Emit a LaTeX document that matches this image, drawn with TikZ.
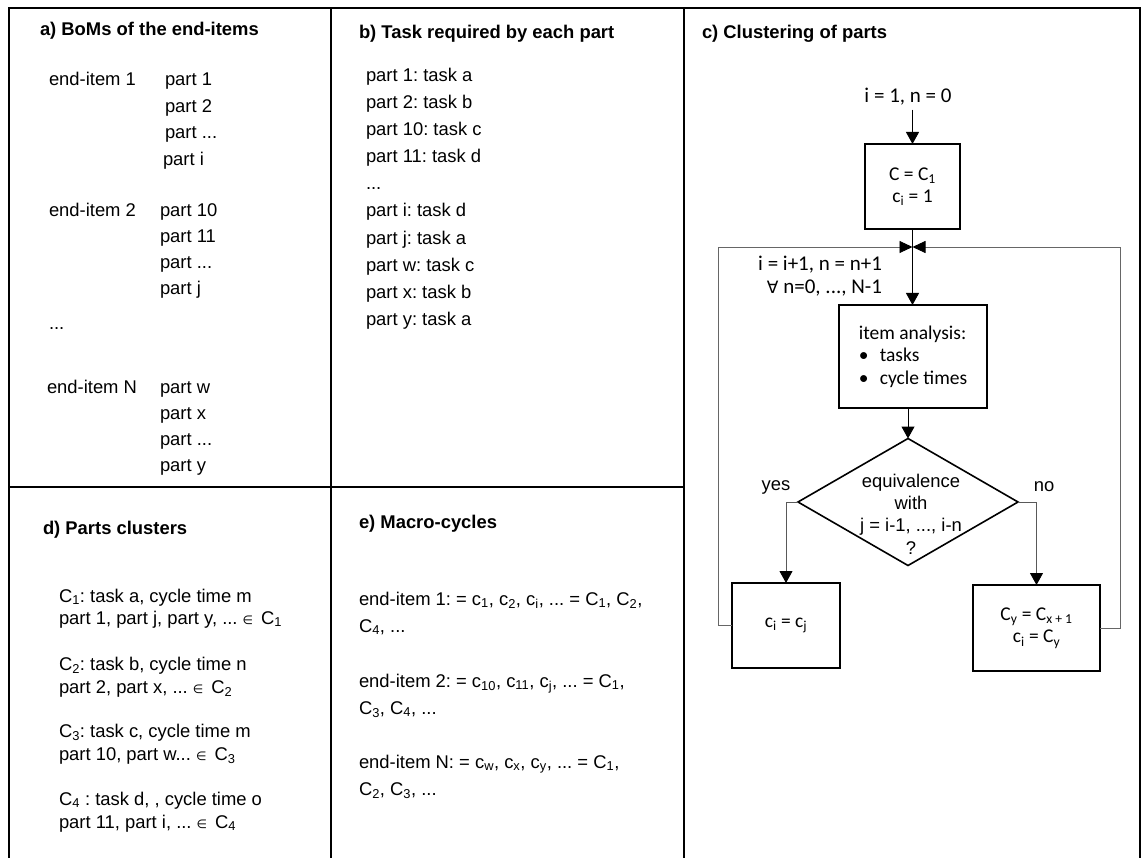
\documentclass[tikz,border=0pt]{standalone}
\usepackage{fontspec}
\setmainfont{Liberation Sans}
\newfontfamily\calfont{Carlito}
\newfontfamily\symfont{DejaVu Sans}
\usetikzlibrary{arrows.meta,shapes.geometric}
\newcommand{\elem}{{\symfont\fontsize{12}{12}\selectfont ∈}}
\frenchspacing
\begin{document}
\begin{tikzpicture}[x=1pt,y=-1pt,
  every node/.style={inner sep=0pt, outer sep=0pt},
  txt/.style={anchor=base west, font=\fontsize{18.4}{22}\selectfont},
  ttl/.style={anchor=base west, font=\bfseries\fontsize{18.4}{22}\selectfont},
  ctxt/.style={font=\calfont\fontsize{19.5}{22.5}\selectfont, align=center},
  ltxt/.style={font=\calfont\fontsize{21}{23}\selectfont, align=center},
  atxt/.style={font=\fontsize{18.4}{22.3}\selectfont, align=center},
  frame/.style={line width=1.8pt, black, line join=miter},
  box/.style={draw, line width=1.6pt, ctxt},
  dia/.style={draw, line width=1.6pt, diamond, minimum width=220, minimum height=127},
  arr/.style={line width=1pt, black, -{Triangle[length=12pt,width=13pt]}},
  conn/.style={line width=0.9pt, black!65, -{Triangle[length=12pt,width=13pt,color=black,fill=black]}},
  loopl/.style={line width=0.9pt, black!60, -{Triangle[length=13pt,width=12pt,color=black,fill=black]}}
]
\useasboundingbox (0,0) rectangle (1143,858);
\fill[white] (0,0) rectangle (1143,858);
% frame
\draw[frame] (9,858) -- (9,8) -- (1140,8) -- (1140,858);
\draw[frame] (331,8) -- (331,858);
\draw[frame] (684,8) -- (684,858);
\draw[frame] (9,487) -- (684,487);

% panel a
\node[ttl] (atitle) at (40,36) {a) BoMs of the end-items};
\node[txt] (ae1) at (49,86) {end-item 1};
\node[txt] (ap1) at (165,86) {part 1};
\node[txt] (ap2) at (165,113) {part 2};
\node[txt] (ap3) at (165,139) {part ...};
\node[txt] (api) at (163,166) {part i};
\node[txt] (ae2) at (49,217) {end-item 2};
\node[txt] (ap10) at (160,217) {part 10};
\node[txt] (ap11) at (160,243) {part 11};
\node[txt] (ap4) at (160,269) {part ...};
\node[txt] (apj) at (160,295) {part j};
\node[txt] (adots) at (49,330) {...};
\node[txt] (aeN) at (47,393) {end-item N};
\node[txt] (apw) at (160,393) {part w};
\node[txt] (apx) at (160,419) {part x};
\node[txt] (ap5) at (160,445) {part ...};
\node[txt] (apy) at (160,471) {part y};

% panel b
\node[ttl] (btitle) at (359,39) {b) Task required by each part};
\node[txt] (b1) at (366,82) {part 1: task a};
\node[txt] (b2) at (366,109) {part 2: task b};
\node[txt] (b3) at (366,136) {part 10: task c};
\node[txt] (b4) at (366,163) {part 11: task d};
\node[txt] (b5) at (366,190) {...};
\node[txt] (b6) at (366,217) {part i: task d};
\node[txt] (b7) at (366,245) {part j: task a};
\node[txt] (b8) at (366,272) {part w: task c};
\node[txt] (b9) at (366,299) {part x: task b};
\node[txt] (b10) at (366,326) {part y: task a};

% panel c
\node[ttl] (ctitle) at (702,39) {c) Clustering of parts};
\node[ltxt] (start) at (908,97) {i = 1, n = 0};
\node[box, minimum width=95, minimum height=85] (init) at (912.5,186.5) {C = C\textsubscript{1}\\c\textsubscript{i} = 1};
\node[box, minimum width=148, minimum height=103, align=left] (item) at (913,356.5) {item analysis:\\\makebox[21pt][l]{•}tasks\\\makebox[21pt][l]{•}cycle times};
\node[ltxt, anchor=east, align=right] (inc) at (882,276.5) {i = i+1, n = n+1\\{\symfont\fontsize{17}{17}\selectfont ∀} n=0, ..., N-1};
\coordinate (merge) at (912.5,247);
\node[dia] (dec) at (908,502) {};
\node[atxt] (dectext) at (911,514) {equivalence\\with\\j = i-1, ..., i-n\\?};
\node[atxt] (yes) at (776,487) {yes};
\node[atxt] (no) at (1044,487) {no};
\node[box, minimum width=108, minimum height=85] (yesb) at (786,625.5) {c\textsubscript{i} = c\textsubscript{j}};
\node[box, minimum width=127, minimum height=86] (nob) at (1036.5,628) {C\textsubscript{y} = C\textsubscript{x + 1}\\c\textsubscript{i} = C\textsubscript{y}};

\draw[arr, shorten <=4pt] (init.north |- start.south) -- (init.north);
\draw[arr] (init.south) -- (init.south |- item.north);
\draw[loopl] (yesb.west) -- ++(-14,0) |- (merge);
\draw[loopl] (nob.east) -- ++(20,0) |- (merge);
\draw[arr] (dec.north |- item.south) -- (dec.north);
\draw[conn] (dec.west) -| (yesb.north);
\draw[conn] (dec.east) -| (nob.north);

% panel d
\node[ttl] (dtitle) at (43,534) {d) Parts clusters};
\node[txt] (d1) at (59,602) {C\textsubscript{1}: task a, cycle time m};
\node[txt] (d2) at (59,624) {part 1, part j, part y, ... \elem\hspace{8pt}C\textsubscript{1}};
\node[txt] (d3) at (59,670) {C\textsubscript{2}: task b, cycle time n};
\node[txt] (d4) at (59,693) {part 2, part x, ... \elem\hspace{8pt}C\textsubscript{2}};
\node[txt] (d5) at (59,737) {C\textsubscript{3}: task c, cycle time m};
\node[txt] (d6) at (59,760) {part 10, part w... \elem\hspace{8pt}C\textsubscript{3}};
\node[txt] (d7) at (59,805) {C\textsubscript{4} : task d, , cycle time o};
\node[txt] (d8) at (59,828) {part 11, part i, ... \elem\hspace{8pt}C\textsubscript{4}};

% panel e
\node[ttl] (etitle) at (359,528) {e) Macro-cycles};
\node[txt] (e1) at (359,605) {end-item 1: = c\textsubscript{1}, c\textsubscript{2}, c\textsubscript{i}, ... = C\textsubscript{1}, C\textsubscript{2},};
\node[txt] (e2) at (359,632) {C\textsubscript{4}, ...};
\node[txt] (e3) at (359,687) {end-item 2: = c\textsubscript{10}, c\textsubscript{11}, c\textsubscript{j}, ... = C\textsubscript{1},};
\node[txt] (e4) at (359,714) {C\textsubscript{3}, C\textsubscript{4}, ...};
\node[txt] (e5) at (359,768) {end-item N: = c\textsubscript{w}, c\textsubscript{x}, c\textsubscript{y}, ... = C\textsubscript{1},};
\node[txt] (e6) at (359,795) {C\textsubscript{2}, C\textsubscript{3}, ...};
\end{tikzpicture}
\end{document}
